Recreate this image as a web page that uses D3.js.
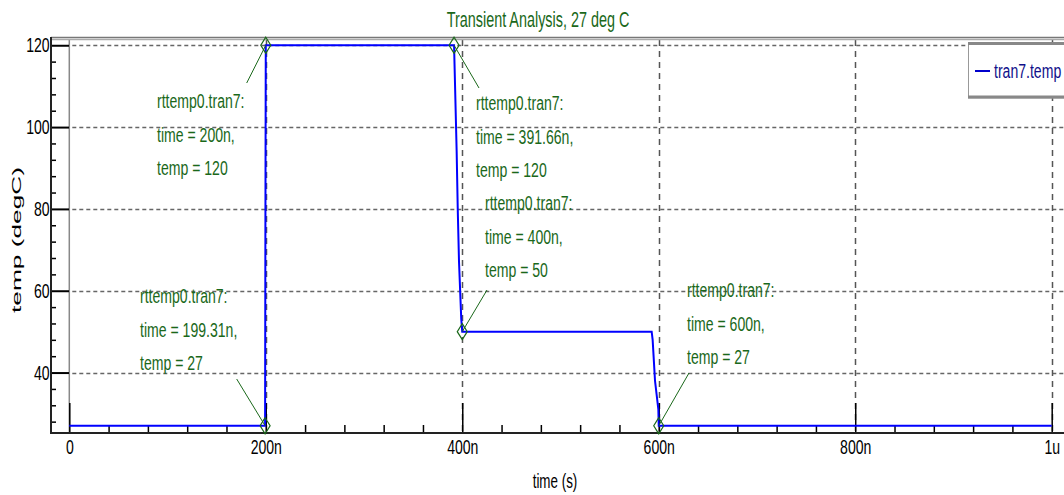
<!DOCTYPE html>
<html><head><meta charset="utf-8">
<script src="https://cdn.jsdelivr.net/npm/d3@7"></script>
<style>
html,body{margin:0;padding:0;background:#fff;}
svg{display:block;}
text{font-family:"Liberation Sans",Arial,sans-serif;}
</style></head>
<body>
<svg id="c" width="1064" height="495"></svg>
<script>
// ---- data ----
const timeNs = [0, 199.31, 199.6, 200, 391.66, 394.3, 395.4, 396.7, 399.0, 400, 592.8, 593.8, 596.2, 599.6, 600, 1000];
const tempC  = [27, 27, 73, 120, 120, 94, 80, 67, 53, 50, 50, 48, 38, 31, 27, 27];
const markerTimes = [200, 199.31, 391.66, 400, 600];
const markerTemps = [120, 27, 120, 50, 27];
const markerLabels = [
  ["rttemp0.tran7:", "time = 200n,", "temp = 120"],
  ["rttemp0.tran7:", "time = 199.31n,", "temp = 27"],
  ["rttemp0.tran7:", "time = 391.66n,", "temp = 120"],
  ["rttemp0.tran7:", "time = 400n,", "temp = 50"],
  ["rttemp0.tran7:", "time = 600n,", "temp = 27"]
];
const xTicks = [0, 200, 400, 600, 800, 1000];
const xTickLabels = ["0", "200n", "400n", "600n", "800n", "1u"];
const yTicks = [40, 60, 80, 100, 120];
const yTickLabels = ["40", "60", "80", "100", "120"];
const titleText = "Transient Analysis, 27 deg C";
const xTitle = "time (s)";
const yTitle = "temp (degC)";
const seriesName = "tran7.temp";

// ---- layout (pixels) ----
const annLayout = [ // text x, first line centre y, leader end x,y
  {tx:157, ty:101, lx:246.7, ly:83},
  {tx:140, ty:296, lx:236.7, ly:379},
  {tx:476, ty:103, lx:479, ly:88},
  {tx:485, ty:203, lx:487, ly:290},
  {tx:687, ty:290, lx:689, ly:373}
];
const SX = 0.67;
const FS = 21;
const green = "#1a681a";

const svg = d3.select("#c");
const x = d3.scaleLinear().domain([0, 1000]).range([69.3, 1051.7]);
const y = d3.scaleLinear().domain([25.3, 121.7]).range([432.7, 38.3]);
const axisX = 51, axisY = 433;

// grid
const grid = svg.append("g");
grid.selectAll("line.h").data(yTicks).join("line")
  .attr("x1", x(0)+3).attr("x2", 1064).attr("y1", d=>Math.round(y(d))+0.5).attr("y2", d=>Math.round(y(d))+0.5)
  .attr("stroke", "#666").attr("stroke-width", 1.5).attr("stroke-dasharray", "4,3");
grid.selectAll("line.v").data(xTicks.slice(1)).join("line")
  .attr("x1", d=>Math.round(x(d))+0.5).attr("x2", d=>Math.round(x(d))+0.5).attr("y1", 40).attr("y2", axisY)
  .attr("stroke", "#555").attr("stroke-width", 1.5).attr("stroke-dasharray", "6,5");
grid.append("line").attr("x1", x(0)).attr("x2", x(0)).attr("y1", 40).attr("y2", axisY)
  .attr("stroke", "#888").attr("stroke-width", 1.5);

// top frame
svg.append("line").attr("x1", axisX).attr("x2", 1064).attr("y1", 37.5).attr("y2", 37.5).attr("stroke", "#777").attr("stroke-width", 1.5);
svg.append("line").attr("x1", axisX).attr("x2", 1064).attr("y1", 39.5).attr("y2", 39.5).attr("stroke", "#aaa").attr("stroke-width", 1.5);

// x axis
const xMinor = d3.range(0, 1001, 40).filter(d => d % 200 !== 0);
svg.append("g").attr("transform", `translate(0,${axisY})`)
  .call(d3.axisBottom(x).tickValues(xMinor).tickSize(-8).tickFormat(""))
  .call(g => g.select(".domain").remove())
  .selectAll("line").attr("stroke", "#000").attr("stroke-width", 1.5);
const gx = svg.append("g").attr("transform", `translate(0,${axisY})`)
  .call(d3.axisBottom(x).tickValues(xTicks).tickSize(-30).tickPadding(6)
    .tickFormat((d,i) => xTickLabels[i]));
gx.select(".domain").remove();
gx.selectAll("line").attr("stroke", "#000").attr("stroke-width", 1.5);
gx.selectAll("text").attr("font-size", FS).attr("fill", "#000")
  .attr("font-family", '"Liberation Sans",Arial,sans-serif')
  .attr("transform", `scale(${SX},1)`);
svg.append("line").attr("x1", axisX-1).attr("x2", 1064).attr("y1", axisY).attr("y2", axisY)
  .attr("stroke", "#222").attr("stroke-width", 2);

// y axis
const yMinor = d3.range(28, 121, 4).filter(d => d % 20 !== 0);
svg.append("g").attr("transform", `translate(${axisX},0)`)
  .call(d3.axisLeft(y).tickValues(yMinor).tickSize(-5).tickFormat(""))
  .call(g => g.select(".domain").remove())
  .selectAll("line").attr("stroke", "#000").attr("stroke-width", 1.5);
const gy = svg.append("g").attr("transform", `translate(${axisX},0)`)
  .call(d3.axisLeft(y).tickValues(yTicks).tickSize(-18).tickPadding(2)
    .tickFormat((d,i) => yTickLabels[i]));
gy.select(".domain").remove();
gy.selectAll("line").attr("stroke", "#000").attr("stroke-width", 2);
gy.selectAll("text").attr("font-size", FS).attr("fill", "#000")
  .attr("font-family", '"Liberation Sans",Arial,sans-serif')
  .attr("transform", `scale(${SX},1)`);
svg.append("line").attr("x1", axisX).attr("x2", axisX).attr("y1", 37).attr("y2", axisY+1)
  .attr("stroke", "#222").attr("stroke-width", 2);

// series
const pts = timeNs.map((t,i) => [t, tempC[i]]);
svg.append("path").datum(pts)
  .attr("d", d3.line().x(d=>x(d[0])).y(d=>y(d[1])))
  .attr("fill", "none").attr("stroke", "#0000ff").attr("stroke-width", 2);

// markers and annotations
const ann = svg.append("g");
markerTimes.forEach((t,i) => {
  const mx = x(t), my = y(markerTemps[i]);
  const L = annLayout[i];
  ann.append("line").attr("x1", mx).attr("y1", my).attr("x2", L.lx).attr("y2", L.ly)
    .attr("stroke", green).attr("stroke-width", 1);
  ann.append("path")
    .attr("d", `M${mx},${my-8}L${mx+5},${my}L${mx},${my+8}L${mx-5},${my}Z`)
    .attr("fill", "none").attr("stroke", green).attr("stroke-width", 1.2);
  markerLabels[i].forEach((s,j) => {
    ann.append("text")
      .attr("transform", `translate(${L.tx},${L.ty + j*33.5}) scale(${SX},1)`)
      .attr("dy", "0.35em").attr("font-size", FS).attr("fill", green).text(s);
  });
});

// title
svg.append("text").attr("transform", `translate(538,19.5) scale(0.64,1)`)
  .attr("text-anchor", "middle").attr("dy", "0.35em").attr("font-size", 22.5).attr("fill", green).text(titleText);
// axis titles
svg.append("text").attr("transform", `translate(555,481) scale(${SX},1)`)
  .attr("text-anchor", "middle").attr("dy", "0.35em").attr("font-size", 20).attr("fill", "#000").text(xTitle);
svg.append("text").attr("transform", `translate(16,240) scale(0.72,1) rotate(-90)`)
  .attr("text-anchor", "middle").attr("dy", "0.35em").attr("font-size", 18)
  .attr("font-family", '"DejaVu Sans",sans-serif')
  .attr("textLength", 146).attr("lengthAdjust", "spacingAndGlyphs")
  .attr("fill", "#000").text(yTitle);

// legend
const lg = svg.append("g");
lg.append("rect").attr("x", 968.5).attr("y", 43).attr("width", 100).attr("height", 55)
  .attr("fill", "#fff").attr("stroke", "#999").attr("stroke-width", 1);
lg.append("line").attr("x1", 968).attr("x2", 1064).attr("y1", 43.5).attr("y2", 43.5).attr("stroke", "#888").attr("stroke-width", 3);
lg.append("line").attr("x1", 968).attr("x2", 1064).attr("y1", 97).attr("y2", 97).attr("stroke", "#888").attr("stroke-width", 3);
lg.append("line").attr("x1", 975).attr("x2", 990).attr("y1", 71).attr("y2", 71).attr("stroke", "#0000cc").attr("stroke-width", 2);
lg.append("text").attr("transform", `translate(994,71) scale(${SX},1)`)
  .attr("dy", "0.35em").attr("font-size", FS).attr("fill", "#10108a").text(seriesName);
</script>
</body></html>
